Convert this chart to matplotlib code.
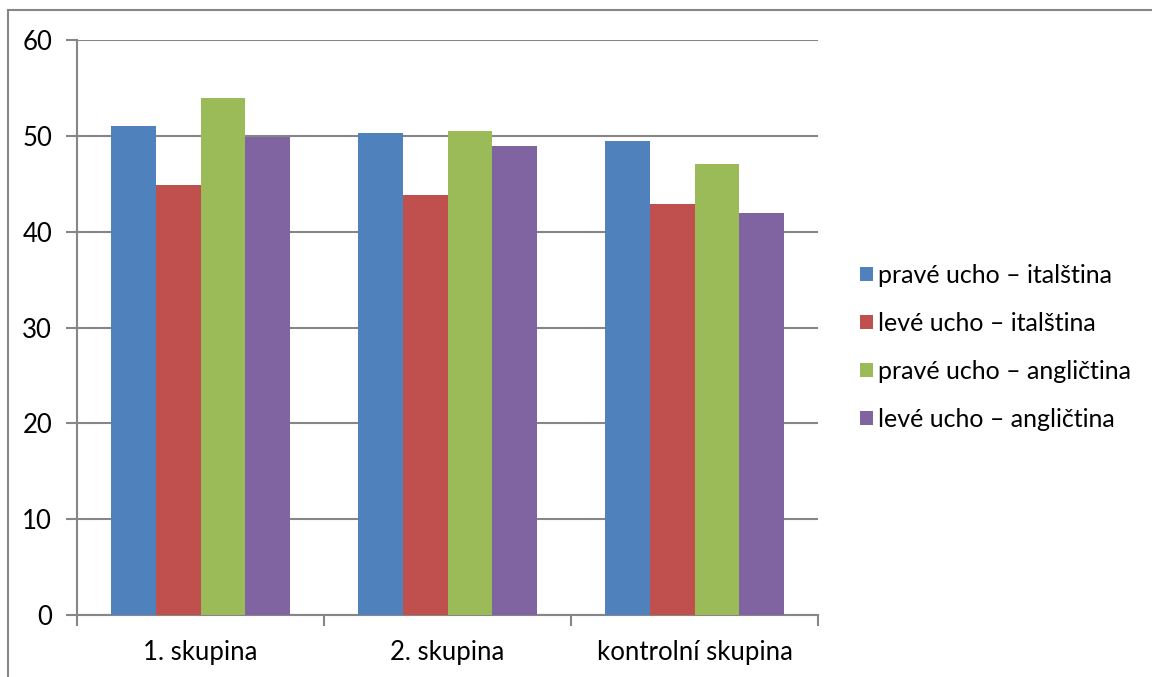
import matplotlib
matplotlib.use("Agg")
import matplotlib.pyplot as plt
from matplotlib.lines import Line2D
from matplotlib.patches import Patch
import numpy as np

categories = ["1. skupina", "2. skupina", "kontrolní skupina"]
series_names = [
    "pravé ucho – italština",
    "levé ucho – italština",
    "pravé ucho – angličtina",
    "levé ucho – angličtina",
]
prave_italstina = [51.0, 50.3, 49.5]
leve_italstina = [44.9, 43.8, 42.9]
prave_anglictina = [53.9, 50.5, 47.1]
leve_anglictina = [49.9, 48.9, 42.0]
y_ticks = [0, 10, 20, 30, 40, 50, 60]

series = [prave_italstina, leve_italstina, prave_anglictina, leve_anglictina]
colors = ["#4F81BD", "#C0504D", "#9BBB59", "#8064A2"]
grid_color = "#868686"

plt.rcParams["font.family"] = ["Lato", "DejaVu Sans"]

W, H = 1152, 677
fig = plt.figure(figsize=(W / 100, H / 100), dpi=100)
ax = fig.add_axes([77 / W, 1 - 615 / H, (818 - 77) / W, (615 - 40) / H])

x = np.arange(len(categories))
bar_w = 1 / 5.5
for i, (vals, c) in enumerate(zip(series, colors)):
    ax.bar(x + (i - 1.5) * bar_w, vals, width=bar_w, color=c,
           edgecolor="none", zorder=3)

ax.set_xlim(-0.5, len(categories) - 0.5)
ax.set_ylim(0, 60)
ax.set_yticks(y_ticks)
ax.yaxis.grid(True, color=grid_color, linewidth=1.5, zorder=0)
ax.tick_params(axis="y", length=8, width=1.5, color=grid_color, pad=10,
               labelsize=18.5, labelcolor="black")

ax.set_xticks(x)
ax.set_xticklabels(categories)
ax.set_xticks(np.arange(-0.5, len(categories), 1.0), minor=True)
ax.tick_params(axis="x", which="major", length=0, pad=18,
               labelsize=18.5, labelcolor="black")
ax.tick_params(axis="x", which="minor", length=8, width=1.5, color=grid_color)

for side in ("top", "right"):
    ax.spines[side].set_visible(False)
for side in ("left", "bottom"):
    ax.spines[side].set_color(grid_color)
    ax.spines[side].set_linewidth(1.5)

# chart frame (top and left edges)
fig.add_artist(Line2D([7.5 / W, 1.0], [1 - 10 / H, 1 - 10 / H],
                      transform=fig.transFigure, color=grid_color, linewidth=1.5))
fig.add_artist(Line2D([7.5 / W, 7.5 / W], [0.0, 1 - 10 / H],
                      transform=fig.transFigure, color=grid_color, linewidth=1.5))

handles = [Patch(facecolor=c, edgecolor="none") for c in colors]
fig.legend(handles, series_names, loc="upper left",
           bbox_to_anchor=(850 / W, 1 - 254 / H), frameon=False,
           fontsize=18, handlelength=0.52, handleheight=0.52,
           handletextpad=0.2, labelspacing=1.0, borderaxespad=0)

fig.savefig("out.png", dpi=100)
